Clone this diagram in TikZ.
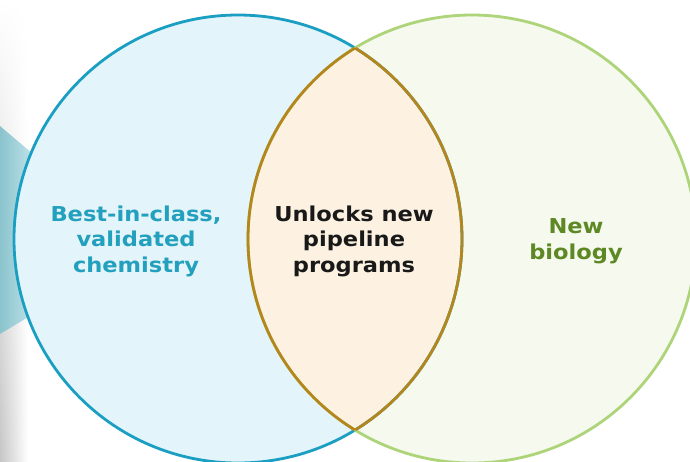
\documentclass[tikz,border=0pt]{standalone}
\usepackage{fontspec}
\setmainfont{DejaVu Sans}
\usetikzlibrary{fadings}
\begin{document}
\begin{tikzpicture}[x=1pt,y=-1pt,
  lbl/.style={font=\bfseries\fontsize{20.5}{25.5}\selectfont\addfontfeatures{FakeStretch=1.1}, align=center, inner sep=0pt},
  ring/.style={line width=2.8pt}]
\definecolor{leftfill}{HTML}{E3F4FA}
\definecolor{leftline}{HTML}{1A9FC2}
\definecolor{rightfill}{HTML}{F5F9EE}
\definecolor{rightline}{HTML}{AED47A}
\definecolor{lensfill}{HTML}{FDF2E1}
\definecolor{lensline}{HTML}{B5861C}
\definecolor{lefttext}{HTML}{22A0BD}
\definecolor{righttext}{HTML}{5E8824}
\definecolor{wedge}{HTML}{8CCFDB}
\useasboundingbox (0,0) rectangle (690,461);
% slide background remnants on the left
\shade[left color=gray!45, right color=white, path fading=north] (0,0) rectangle (28,461);
\shade[left color=wedge!85!gray, right color=wedge!45] (0,126) -- (40,160) -- (40,310) -- (0,334) -- cycle;
% circle fills
\fill[leftfill] (238,239) circle (224);
\fill[rightfill] (472,239) circle (224);
\begin{scope}
  \clip (238,239) circle (224);
  \fill[lensfill] (472,239) circle (224);
\end{scope}
% outlines
\draw[ring, leftline] (238,239) circle (224);
\draw[ring, rightline] (472,239) circle (224);
\begin{scope}
  \clip (472,239) circle (224);
  \draw[ring, lensline] (238,239) circle (224);
\end{scope}
\begin{scope}
  \clip (238,239) circle (224);
  \draw[ring, lensline] (472,239) circle (224);
\end{scope}
% labels
\node[lbl, text=lefttext] (chem) at (136,241) {Best-in-class,\\validated\\chemistry};
\node[lbl, text=black!90] (pipe) at (354,241) {Unlocks new\\pipeline\\programs};
\node[lbl, text=righttext] (bio) at (576,241) {New\\biology};
\end{tikzpicture}
\end{document}
